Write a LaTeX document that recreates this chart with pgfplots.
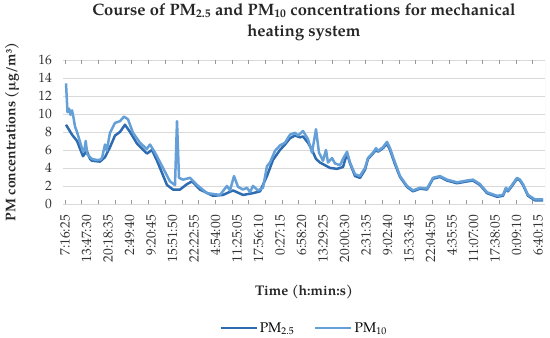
\documentclass[border=0pt]{standalone}
\usepackage{fontspec}
\setmainfont{TeX Gyre Pagella}
\usepackage{pgfplots}
\pgfplotsset{compat=1.18}
\definecolor{pmdark}{RGB}{46,108,178}
\definecolor{pmlight}{RGB}{100,160,215}
\definecolor{gridc}{RGB}{217,217,217}
\begin{document}
\begin{tikzpicture}
\begin{axis}[
  scale only axis,
  width=482pt, height=144pt,
  xmin=63, xmax=545, ymin=0, ymax=16,
  ytick={0,2,...,16},
  xtick={65,86.5,108,129.5,151,172.5,194,215.5,237,258.5,280,301.5,323,344.5,366,387.5,409,430.5,452,473.5,495,516.5,538},
  xticklabels={7:16:25,13:47:30,20:18:35,2:49:40,9:20:45,15:51:50,22:22:55,4:54:00,11:25:05,17:56:10,0:27:15,6:58:20,13:29:25,20:00:30,2:31:35,9:02:40,15:33:45,22:04:50,4:35:55,11:07:00,17:38:05,0:09:10,6:40:15},
  minor xtick={65,81.7,...,545},
  major tick length=0pt,
  minor tick length=4pt,
  tick align=inside,
  minor tick style={gridc!70!black, line width=0.6pt},
  ymajorgrids,
  major grid style={gridc, line width=0.7pt},
  axis line style={draw=none},
  /pgf/number format/assume math mode=true,
  tick label style={font=\fontsize{13.5}{15}\selectfont, text=black!80},
  xticklabel style={rotate=90, anchor=east, xshift=-11pt, inner sep=0pt},
  yticklabel style={xshift=-11pt, inner sep=0pt},
  title={Course of PM\textsubscript{2.5} and PM\textsubscript{10} concentrations for mechanical\\heating system},
  title style={font=\bfseries\fontsize{16.5}{21}\selectfont, align=center, at={(axis description cs:0.5,1.222)}, anchor=center, text=black!85},
  xlabel={Time (h:min:s)},
  xlabel style={font=\bfseries\fontsize{14}{16}\selectfont, at={(axis description cs:0.5,-0.611)}, anchor=center, text=black!85},
  ylabel={PM concentrations (µg/m³)},
  ylabel style={font=\bfseries\fontsize{14}{16}\selectfont, at={(axis description cs:-0.106,0.5)}, anchor=center, text=black!85},
  legend columns=2,
  legend style={draw=none, at={(axis description cs:0.5,-0.861)}, anchor=center, font=\fontsize{14}{16}\selectfont, inner sep=0pt, /tikz/every even column/.append style={column sep=18pt}},
  legend image code/.code={\draw[#1] (0pt,0pt) -- (36pt,0pt);},
]
\draw[gridc!70!black, line width=0.7pt] (rel axis cs:0,0) -- (rel axis cs:1,0);
\draw[gridc, line width=0.7pt] (rel axis cs:1,0) -- (rel axis cs:1,1);
\addplot[pmdark, line width=2.5pt, line join=round] coordinates {
(66,8.8) (72,7.7) (77,7.0) (83,5.3) (86.7,5.9) (90,5.0) (92,4.8) (100,4.7) (105,5.2) (110,6.3) (115,7.6) (120,8.0) (125,8.8) (130,8.0) (137,6.7) (147,5.6) (152,6.0) (157,4.8) (167,2.1) (173,1.6) (180,1.6) (187,2.2) (192,2.5) (200,1.6) (213,0.9) (223,1.0) (233,1.5) (243,1.0) (253,1.2) (260,1.4) (267,3.1) (273,4.9) (280,6.0) (285,6.6) (290,7.3) (295,7.6) (300,7.4) (303,7.5) (308,6.8) (312,6.0) (316,5.0) (320,4.6) (325,4.3) (330,4.0) (337,3.9) (343,4.1) (347,5.6) (350,4.5) (355,3.1) (360,2.9) (365,3.8) (368,5.0) (373,5.6) (376,6.0) (378,5.8) (383,6.2) (387,6.7) (390,6.0) (395,4.4) (400,3.0) (407,1.9) (413,1.4) (420,1.7) (427,1.6) (433,2.8) (440,3.0) (447,2.6) (457,2.3) (467,2.5) (473,2.6) (480,2.1) (487,1.2) (497,0.8) (503,0.9) (506,1.7) (508,1.4) (512,2.0) (517,2.8) (520,2.6) (523,2.1) (528,0.9) (535,0.4) (543,0.4)
};
\addlegendentry{PM\textsubscript{2.5}}
\addplot[pmlight, line width=2.5pt, line join=round] coordinates {
(66,13.4) (67.5,10.2) (69,10.6) (70.5,9.9) (72,10.4) (73.5,9.6) (75,8.6) (77,8.0) (80,6.9) (83,5.8) (84.5,6.0) (85.7,7.0) (87.3,5.5) (90,5.2) (92,5.0) (96,4.9) (100,4.9) (102,5.1) (105,6.6) (106.7,5.9) (110,7.9) (115,9.0) (120,9.2) (124,9.7) (128,9.4) (133,7.9) (140,6.8) (146.7,6.1) (150,6.6) (155,5.7) (163,4.0) (170,2.5) (175,2.1) (177,9.2) (179,2.9) (183,2.7) (190,2.9) (197,2.1) (207,1.2) (220,1.0) (227,2.0) (230,1.5) (234,3.1) (238,1.9) (243,1.6) (247,1.8) (250,1.3) (253,2.0) (258,1.5) (263,1.8) (267,4.2) (270,4.6) (275,5.9) (280,6.5) (285,6.8) (290,7.7) (295,7.9) (298,7.6) (303,8.1) (308,7.2) (312,5.7) (316,8.3) (319,5.7) (323,4.8) (326,6.0) (328,4.6) (332,5.1) (335,4.5) (340,4.3) (343,5.0) (347,5.8) (350,4.6) (355,3.3) (360,3.1) (365,4.0) (368,5.1) (373,5.7) (376,6.2) (378,5.9) (383,6.3) (387,6.9) (390,6.2) (395,4.6) (400,3.1) (407,2.0) (413,1.5) (420,1.8) (427,1.7) (433,2.9) (440,3.1) (447,2.7) (457,2.4) (467,2.6) (473,2.7) (480,2.2) (487,1.3) (497,0.9) (503,1.0) (506,1.8) (508,1.5) (512,2.1) (517,2.9) (520,2.7) (523,2.2) (528,1.0) (535,0.5) (543,0.5)
};
\addlegendentry{PM\textsubscript{10}}
\end{axis}
\path[use as bounding box] (-63pt,-134pt) rectangle (487pt,201pt);
\end{tikzpicture}
\end{document}
